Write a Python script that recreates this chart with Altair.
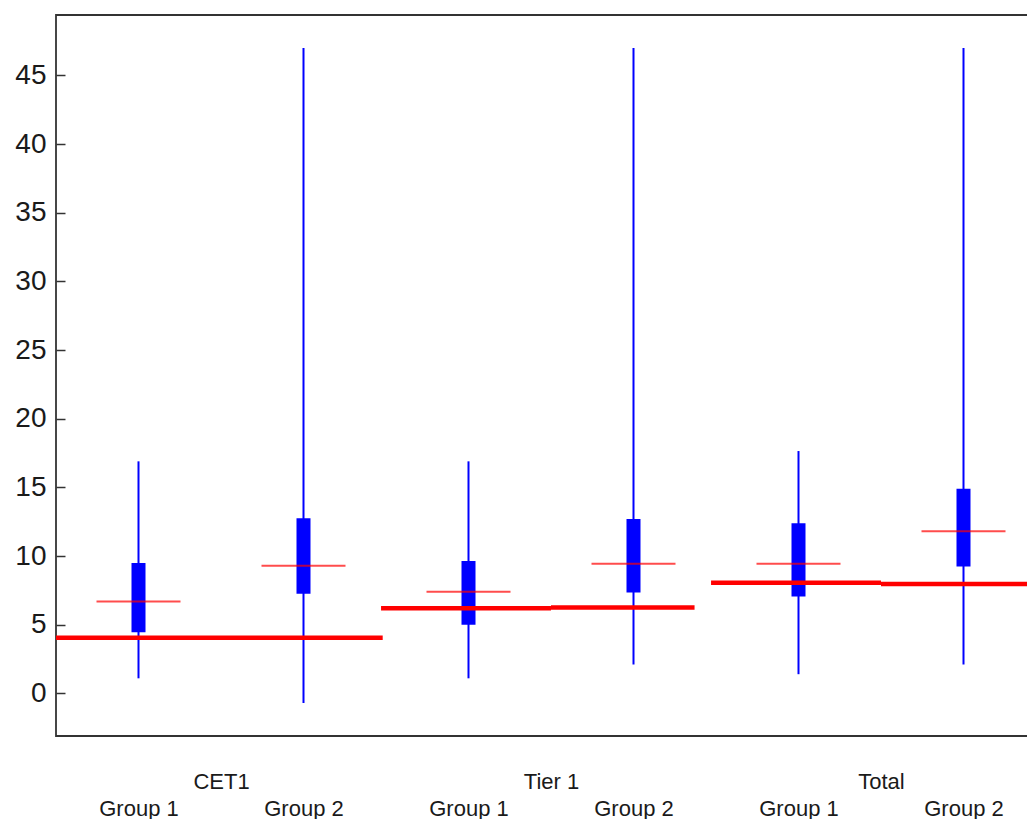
import altair as alt
import pandas as pd

# ---- data ----
positions = [1, 2, 3, 4, 5, 6]
categories = ["CET1", "CET1", "Tier 1", "Tier 1", "Total", "Total"]
groups = ["Group 1", "Group 2", "Group 1", "Group 2", "Group 1", "Group 2"]
whisker_low = [1.1, -0.7, 1.1, 2.1, 1.4, 2.1]
q1 = [4.45, 7.25, 5.0, 7.35, 7.05, 9.25]
medians = [6.7, 9.3, 7.4, 9.45, 9.45, 11.8]
q3 = [9.5, 12.75, 9.65, 12.7, 12.4, 14.9]
whisker_high = [16.9, 47.0, 16.9, 47.0, 17.65, 47.0]

# thick red requirement lines (one segment per group)
req_start = [0.5, 1.5, 2.47, 3.5, 4.47, 5.5]
req_end = [1.5, 2.48, 3.5, 4.37, 5.5, 6.5]
req_level = [4.05, 4.05, 6.2, 6.25, 8.05, 7.97]

y_ticks = [0, 5, 10, 15, 20, 25, 30, 35, 40, 45]

box_df = pd.DataFrame({
    "pos": positions, "category": categories, "group": groups,
    "low": whisker_low, "q1": q1, "median": medians, "q3": q3, "high": whisker_high,
})
req_df = pd.DataFrame({"start": req_start, "end": req_end, "level": req_level})

# x-axis labels: groups on second line, category names between groups on first line
cat_names = []
cat_mid = []
for p, c in zip(positions, categories):
    if c not in cat_names:
        cat_names.append(c)
        cat_mid.append([p])
    else:
        cat_mid[cat_names.index(c)].append(p)
cat_mid = [sum(v) / len(v) for v in cat_mid]

label_values = sorted(positions + cat_mid)
expr = "''"
for p, g in zip(positions, groups):
    expr = f"datum.value == {p} ? ['', '{g}'] : " + expr
for m, c in zip(cat_mid, cat_names):
    expr = f"datum.value == {m} ? '{c}' : " + expr

BLUE = "#0000ff"
RED = "#ff0000"
FONT = "Liberation Sans"

x_scale = alt.Scale(domain=[0.5, 6.5], nice=False, zero=False, padding=0)
y_scale = alt.Scale(domain=[-3.1, 49.4], nice=False, zero=False, padding=0)

x_axis = alt.Axis(
    values=label_values, labelExpr=expr, ticks=False, domain=False, grid=False,
    labelFont=FONT, labelFontSize=22, labelColor="#1a1a1a", labelPadding=52,
    labelBaseline="alphabetic", labelLineHeight=27, labelAlign="center",
    labelOverlap=False, labelFlush=False,
)
y_axis = alt.Axis(
    values=y_ticks, domain=False, grid=False, tickSize=9, offset=-9,
    tickColor="#333333", tickWidth=1.5, labelFont=FONT, labelFontSize=28,
    labelColor="#1a1a1a", labelPadding=10,
)

base = alt.Chart(box_df)

whiskers = base.mark_rule(color=BLUE, strokeWidth=2).encode(
    x=alt.X("pos:Q", scale=x_scale, axis=x_axis, title=None),
    y=alt.Y("low:Q", scale=y_scale, axis=y_axis, title=None),
    y2="high:Q",
)

boxes = base.mark_bar(color=BLUE, size=14).encode(
    x=alt.X("pos:Q", scale=x_scale),
    y=alt.Y("q1:Q", scale=y_scale),
    y2="q3:Q",
)

req_lines = alt.Chart(req_df).mark_rule(color=RED, strokeWidth=4.5, clip=True).encode(
    x=alt.X("start:Q", scale=x_scale),
    x2="end:Q",
    y=alt.Y("level:Q", scale=y_scale),
)

median_ticks = base.mark_tick(color=RED, orient="horizontal", size=84, thickness=2).encode(
    x=alt.X("pos:Q", scale=x_scale),
    y=alt.Y("median:Q", scale=y_scale),
)

chart = alt.layer(whiskers, boxes, req_lines, median_ticks).properties(
    width=990,
    height=721,
    autosize=alt.AutoSizeParams(type="none"),
    padding={"left": 48, "top": 7, "right": -19, "bottom": 83},
    background="white",
).configure_view(
    stroke="#333333", strokeWidth=1.8,
)

chart.save("out.html", embed_options={"renderer": "svg", "actions": False})
